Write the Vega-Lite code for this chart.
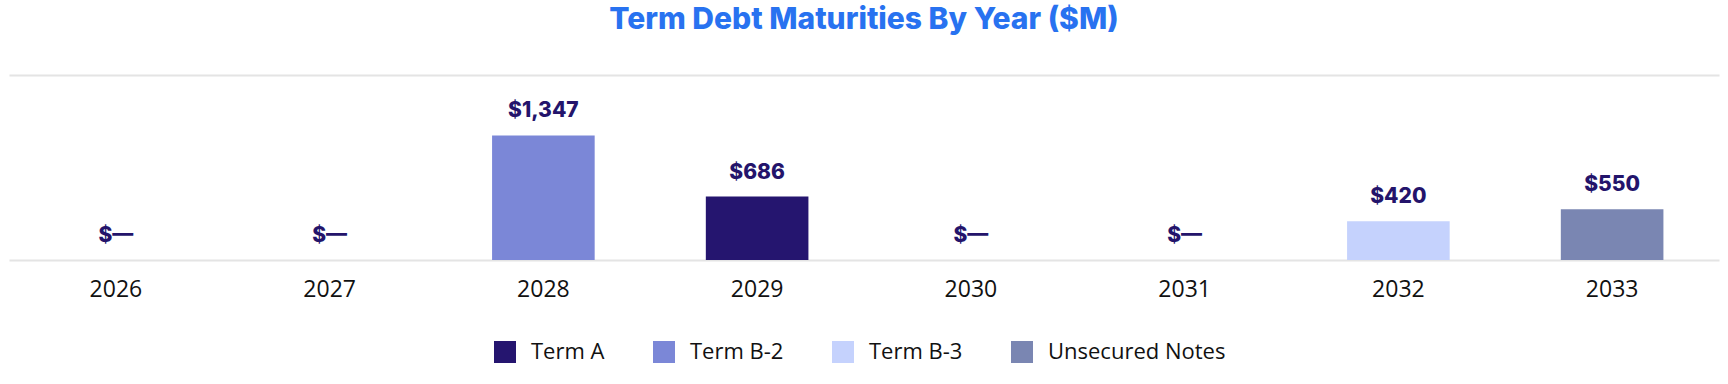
{
  "$schema": "https://vega.github.io/schema/vega-lite/v6.json",
  "autosize": {"type": "none"},
  "width": 1710,
  "height": 185,
  "padding": {"left": 9, "top": 75, "right": 9, "bottom": 124},
  "background": "white",
  "title": {
    "text": "Term Debt Maturities By Year ($M)",
    "font": "Inter",
    "fontSize": 30,
    "fontWeight": 800,
    "color": "#2872f0",
    "anchor": "middle",
    "offset": 40
  },
  "data": {
    "values": [
      {"year": "2026", "tranche": "Term A", "amount": 0, "label": "$—"},
      {"year": "2027", "tranche": "Term A", "amount": 0, "label": "$—"},
      {"year": "2028", "tranche": "Term B-2", "amount": 1347, "label": "$1,347"},
      {"year": "2029", "tranche": "Term A", "amount": 686, "label": "$686"},
      {"year": "2030", "tranche": "Term A", "amount": 0, "label": "$—"},
      {"year": "2031", "tranche": "Term A", "amount": 0, "label": "$—"},
      {"year": "2032", "tranche": "Term B-3", "amount": 420, "label": "$420"},
      {"year": "2033", "tranche": "Unsecured Notes", "amount": 550, "label": "$550"}
    ]
  },
  "encoding": {
    "x": {
      "field": "year",
      "type": "ordinal",
      "scale": {"paddingInner": 0.52, "paddingOuter": 0.26},
      "axis": {
        "title": null,
        "labelAngle": 0,
        "labelFont": "Open Sans",
        "labelFontSize": 23,
        "labelColor": "#111111",
        "labelPadding": 18,
        "ticks": false,
        "domain": false
      }
    },
    "y": {
      "field": "amount",
      "type": "quantitative",
      "scale": {"domain": [0, 2000], "nice": false},
      "axis": {
        "title": null,
        "labels": false,
        "ticks": false,
        "domain": false,
        "values": [0, 2000],
        "grid": true,
        "gridColor": "#e4e4e4",
        "gridWidth": 2
      }
    }
  },
  "layer": [
    {
      "transform": [{"filter": "datum.amount > 0"}],
      "mark": {"type": "bar"},
      "encoding": {
        "color": {
          "field": "tranche",
          "type": "nominal",
          "scale": {
            "domain": ["Term A", "Term B-2", "Term B-3", "Unsecured Notes"],
            "range": ["#25156f", "#7b87d7", "#c5d2fd", "#7a86b2"]
          },
          "legend": {
            "title": null,
            "orient": "none",
            "direction": "horizontal",
            "legendX": 485,
            "legendY": 266,
            "symbolType": "square",
            "symbolSize": 484,
            "symbolStrokeWidth": 0,
            "symbolOffset": 0,
            "labelFont": "Open Sans",
            "labelFontSize": 22,
            "labelColor": "#111111",
            "labelLimit": 400,
            "labelOffset": 15,
            "columnPadding": 48
          }
        }
      }
    },
    {
      "mark": {
        "type": "text",
        "font": "Inter",
        "fontSize": 21,
        "fontWeight": 800,
        "color": "#24146b",
        "baseline": "alphabetic",
        "dy": -18
      },
      "encoding": {"text": {"field": "label"}}
    }
  ],
  "config": {"view": {"stroke": null}}
}
